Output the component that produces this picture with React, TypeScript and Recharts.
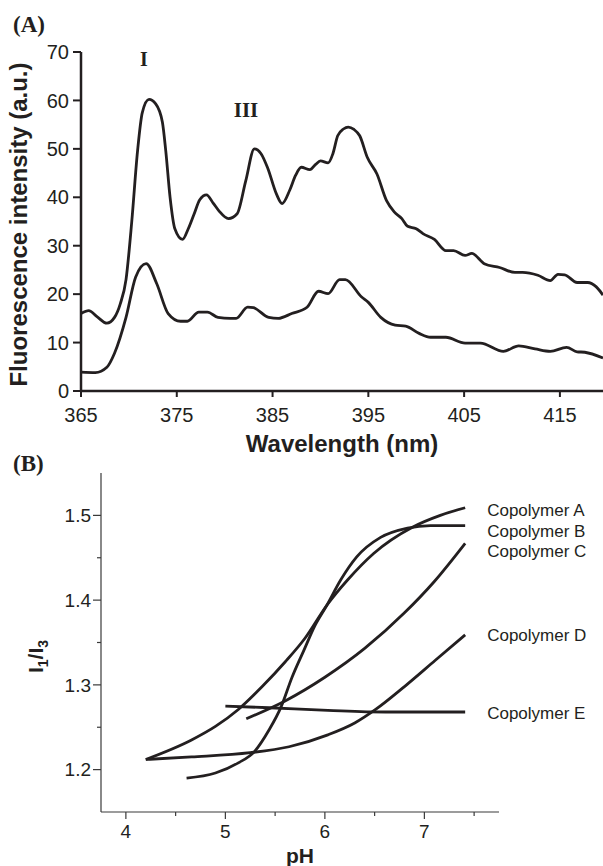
import React from "react";
import { LineChart, Line, XAxis, YAxis, Label, LabelList } from "recharts";

const INK = "#231f20";
const SANS = "'Liberation Sans', Arial, Helvetica, sans-serif";
const SERIF = "'Liberation Serif', 'Times New Roman', serif";

// (A) pyrene emission spectra, wavelength (nm) vs intensity (a.u.)
const wlUpper = [
  365, 365.8, 366.7, 367.7, 368.5, 369.1, 369.7, 370.3, 370.9, 371.4, 372.1, 372.8, 373.5,
  373.85, 374.3, 374.8, 375.6, 376.2, 376.8, 377.4, 378.1, 378.8, 379.4, 380.4, 381.3, 382.2,
  383.1, 383.8, 384.5, 385.4, 386.0, 386.8, 387.4, 388.0, 388.9, 389.5, 390.0, 390.8, 391.3,
  391.8, 392.4, 392.9, 393.5, 394.1, 394.9, 395.9, 396.9, 397.7, 398.5, 399.1, 400.0, 400.7,
  401.9, 403.1, 403.9, 405.1, 405.8, 407.1, 408.7, 410.3, 411.1, 412.7, 414.0, 414.8, 415.5,
  416.8, 417.9, 418.8, 419.5,
];
const intUpper = [
  16, 16.6, 15.3, 14.0, 15.2, 18, 23, 35, 49.5, 57.5, 60.2, 59.3, 55.5,
  49.6, 40, 33.5, 31.3, 33.5, 36.5, 39.5, 40.5, 38.8, 37.2, 35.6, 36.6, 43.4,
  50, 49, 46, 40.7, 38.7, 41.5, 44.5, 46.2, 45.7, 46.8, 47.5, 47.1, 49,
  52.7, 54.1, 54.5, 54, 52.7, 48.2, 44.8, 39.3, 37, 35.6, 34, 33.5, 32.5,
  31.3, 29, 29, 28, 28.4, 26.3, 25.5, 24.5, 24.5, 23.9, 22.8, 24.1, 24.0,
  22.4, 22.4, 21.5, 19.8,
];
const wlLower = [
  365, 366.5, 367.7, 368.5, 369.7, 370.7, 371.8, 372.9, 374.1, 375.4, 376.1, 377.3, 378.2,
  379.3, 380.6, 381.2, 382.4, 383.0, 384.6, 385.6, 387.0, 388.6, 389.8, 390.8, 392.0, 392.6,
  394.3, 395.0, 396.3, 397.8, 398.9, 400.3, 401.5, 403.1, 405.1, 406.7, 409.1, 410.7, 412.4,
  414.0, 415.7, 416.8, 417.6, 419.5,
];
const intLower = [
  3.9, 3.8, 4.9, 7.8, 15.2, 23.5, 26.3, 22.2, 16, 14.4, 14.4, 16.3, 16.3,
  15.2, 15, 15, 17.3, 17.2, 15.2, 15, 16, 17.3, 20.6, 20.1, 23, 23,
  19.4, 18.3, 15.2, 13.6, 13.4, 11.9, 11.1, 11.1, 9.9, 9.9, 8.2, 9.3, 8.7,
  8.2, 9, 8.1, 8, 6.8,
];
const wlTicks = [365, 375, 385, 395, 405, 415];
const intTicks = [0, 10, 20, 30, 40, 50, 60, 70];

// (B) I1/I3 ratio vs pH
const copolymerNames = ["Copolymer A", "Copolymer B", "Copolymer C", "Copolymer D", "Copolymer E"];
const phA = [4.2, 4.66, 4.9, 5.13, 5.37, 5.6, 5.8, 6.02, 6.23, 6.49, 6.88, 7.16, 7.41];
const ratioA = [1.212, 1.235, 1.251, 1.271, 1.298, 1.327, 1.355, 1.394, 1.424, 1.455, 1.486, 1.5, 1.509];
const phB = [4.61, 4.9, 5.13, 5.29, 5.44, 5.56, 5.67, 5.79, 5.9, 6.02, 6.16, 6.32, 6.56, 6.83, 7.06, 7.41];
const ratioB = [1.19, 1.196, 1.208, 1.221, 1.247, 1.274, 1.309, 1.341, 1.37, 1.394, 1.424, 1.451, 1.474, 1.485, 1.488, 1.488];
const phC = [5.21, 5.6, 6.0, 6.4, 6.8, 7.1, 7.41];
const ratioC = [1.26, 1.281, 1.309, 1.343, 1.385, 1.422, 1.467];
const phD = [4.2, 4.66, 5.25, 5.64, 6.03, 6.3, 6.51, 6.8, 7.11, 7.41];
const ratioD = [1.212, 1.215, 1.22, 1.227, 1.241, 1.255, 1.271, 1.298, 1.329, 1.359];
const phE = [5.0, 5.44, 6.03, 6.61, 7.41];
const ratioE = [1.275, 1.273, 1.27, 1.268, 1.268];
const phTicks = [4, 4.5, 5, 5.5, 6, 6.5, 7, 7.5];
const ratioTicks = [1.2, 1.25, 1.3, 1.35, 1.4, 1.45, 1.5];

// vertical nudge of the end labels so they sit where the original put them
const endLabelDy = [8, 11, 14, 6, 7];

const zip = (xs: number[], ys: number[], kx: string, ky: string) =>
  xs.map((x, i) => ({ [kx]: x, [ky]: ys[i] }));

const upperData = zip(wlUpper, intUpper, "wl", "v");
const lowerData = zip(wlLower, intLower, "wl", "v");
const bSeries = [
  zip(phA, ratioA, "ph", "r"),
  zip(phB, ratioB, "ph", "r"),
  zip(phC, ratioC, "ph", "r"),
  zip(phD, ratioD, "ph", "r"),
  zip(phE, ratioE, "ph", "r"),
];

const AXIS_B = "#3a3a3a";

const PhTick = (props: any) => {
  const { x, y, payload } = props;
  const major = Number.isInteger(payload.value);
  const axisY = y - 13;
  return (
    <g>
      <line x1={x} x2={x} y1={axisY} y2={axisY + (major ? 7 : 4)} stroke={AXIS_B} strokeWidth={1.2} />
      {major && (
        <text x={x} y={y} dy="0.71em" textAnchor="middle" fontSize={19} fill={INK} fontFamily={SANS}>
          {payload.value}
        </text>
      )}
    </g>
  );
};

const RatioTick = (props: any) => {
  const { x, y, payload } = props;
  const major = Math.round(payload.value * 100) % 10 === 0;
  const axisX = x + 10;
  return (
    <g>
      <line x1={axisX - (major ? 8 : 4)} x2={axisX} y1={y} y2={y} stroke={AXIS_B} strokeWidth={1.2} />
      {major && (
        <text x={x} y={y} dy="0.355em" textAnchor="end" fontSize={19} fill={INK} fontFamily={SANS}>
          {payload.value.toFixed(1)}
        </text>
      )}
    </g>
  );
};

const FluoLabel = ({ viewBox }: any) => {
  const cx = 27;
  const cy = viewBox.y + viewBox.height / 2 + 3;
  return (
    <text
      x={cx}
      y={cy}
      transform={`rotate(-90 ${cx} ${cy})`}
      textAnchor="middle"
      fontFamily={SANS}
      fontWeight="bold"
      fontSize={24}
      fill={INK}
    >
      Fluorescence intensity (a.u.)
    </text>
  );
};

const RatioLabel = ({ viewBox }: any) => {
  const cx = 43;
  const cy = viewBox.y + viewBox.height / 2 + 14;
  return (
    <text
      x={cx}
      y={cy}
      transform={`rotate(-90 ${cx} ${cy})`}
      textAnchor="middle"
      fontFamily={SANS}
      fontWeight="bold"
      fontSize={21}
      fill={INK}
    >
      I
      <tspan fontSize={14} dy={5}>1</tspan>
      <tspan fontSize={21} dy={-5}>/I</tspan>
      <tspan fontSize={14} dy={5}>3</tspan>
    </text>
  );
};

const endLabel = (idx: number, last: number) => (props: any) => {
  const { x, y, index } = props;
  if (index !== last) return null;
  return (
    <text x={x + 22} y={y + endLabelDy[idx]} fontSize={17} fill={INK} fontFamily={SANS}>
      {copolymerNames[idx]}
    </text>
  );
};

function SpectraPanel() {
  return (
    <LineChart width={603} height={460} margin={{ top: 52, right: 0, bottom: 0, left: 0 }}>
      <XAxis
        type="number"
        dataKey="wl"
        domain={[365, 419.5]}
        allowDataOverflow
        ticks={wlTicks}
        height={69}
        axisLine={{ stroke: INK, strokeWidth: 2.5 }}
        tickLine={{ stroke: INK, strokeWidth: 2 }}
        tickSize={6}
        tickMargin={11}
        tick={{ fill: INK, fontSize: 20, fontFamily: SANS }}
      >
        <Label
          value="Wavelength (nm)"
          position="insideBottom"
          offset={8}
          style={{ fontFamily: SANS, fontWeight: "bold", fontSize: 24, fill: INK }}
        />
      </XAxis>
      <YAxis
        type="number"
        domain={[0, 70]}
        ticks={intTicks}
        width={81}
        axisLine={{ stroke: INK, strokeWidth: 2.5 }}
        tickLine={{ stroke: INK, strokeWidth: 2 }}
        tickSize={8}
        tickMargin={4}
        tick={{ fill: INK, fontSize: 20, fontFamily: SANS }}
      >
        <Label content={FluoLabel} />
      </YAxis>
      <Line data={upperData} dataKey="v" type="monotone" stroke={INK} strokeWidth={2.8} dot={false} isAnimationActive={false} />
      <Line data={lowerData} dataKey="v" type="monotone" stroke={INK} strokeWidth={2.8} dot={false} isAnimationActive={false} />
    </LineChart>
  );
}

function RatioPanel() {
  return (
    <LineChart width={603} height={406} margin={{ top: 13, right: 104, bottom: 0, left: 0 }}>
      <XAxis
        type="number"
        dataKey="ph"
        domain={[3.75, 7.75]}
        ticks={phTicks}
        height={54}
        axisLine={{ stroke: AXIS_B, strokeWidth: 1.2 }}
        tickLine={false}
        tickSize={8}
        tickMargin={5}
        tick={<PhTick />}
      >
        <Label
          value="pH"
          position="insideBottom"
          offset={3}
          style={{ fontFamily: SANS, fontWeight: "bold", fontSize: 21, fill: INK }}
        />
      </XAxis>
      <YAxis
        type="number"
        domain={[1.15, 1.55]}
        ticks={ratioTicks}
        width={101}
        axisLine={{ stroke: AXIS_B, strokeWidth: 1.2 }}
        tickLine={false}
        tickSize={8}
        tickMargin={2}
        tick={<RatioTick />}
      >
        <Label content={RatioLabel} />
      </YAxis>
      {bSeries.map((d, i) => (
        <Line
          key={copolymerNames[i]}
          data={d}
          dataKey="r"
          type="monotone"
          stroke={INK}
          strokeWidth={2.8}
          dot={false}
          isAnimationActive={false}
        >
          <LabelList dataKey="r" content={endLabel(i, d.length - 1)} />
        </Line>
      ))}
    </LineChart>
  );
}

export default function App() {
  return (
    <div style={{ position: "absolute", left: 0, top: 0, width: 603, height: 866, background: "#fff" }}>
      <div style={{ position: "absolute", left: 0, top: 0 }}>
        <SpectraPanel />
      </div>
      <div style={{ position: "absolute", left: 0, top: 460 }}>
        <RatioPanel />
      </div>
      <svg width={603} height={866} style={{ position: "absolute", left: 0, top: 0, pointerEvents: "none" }}>
        <text x={13} y={32} fontFamily={SERIF} fontWeight="bold" fontSize={23} fill={INK}>(A)</text>
        <text x={144} y={66} textAnchor="middle" fontFamily={SERIF} fontWeight="bold" fontSize={20} fill={INK}>I</text>
        <text x={246} y={117} textAnchor="middle" fontFamily={SERIF} fontWeight="bold" fontSize={21} fill={INK}>III</text>
        <text x={13} y={471} fontFamily={SERIF} fontWeight="bold" fontSize={23} fill={INK}>(B)</text>
      </svg>
    </div>
  );
}
